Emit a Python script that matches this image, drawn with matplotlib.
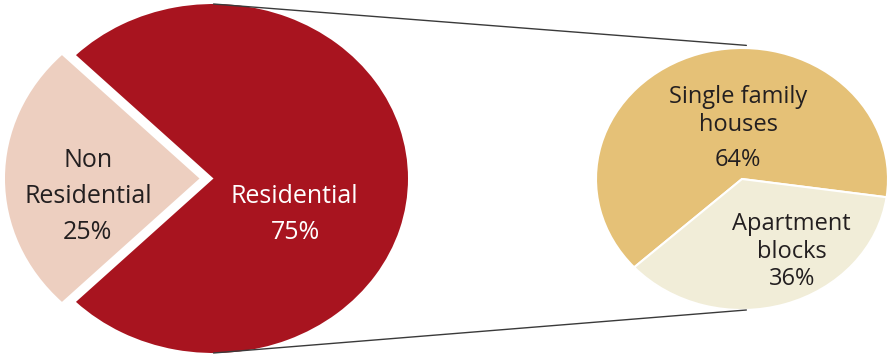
import matplotlib.pyplot as plt
from matplotlib.patches import ConnectionPatch

# ── Data ─────────────────────────────────────────────────────────────────────
main_labels = ['Residential', 'Non\nResidential']
main_values = [75, 25]
sub_labels = ['Single family\nhouses', 'Apartment\nblocks']
sub_values = [64, 36]

main_colors = ['#A8141F', '#EDCFC0']
sub_colors = ['#E5C177', '#F1EDD8']
dark = '#231F20'

plt.rcParams['font.family'] = ['Open Sans', 'DejaVu Sans']

W, H = 890, 354
fig = plt.figure(figsize=(W / 100, H / 100), dpi=100)


def px_axes(x0, y0, x1, y1):
    # axes placed by pixel box (top-left origin)
    return fig.add_axes([x0 / W, (H - y1) / H, (x1 - x0) / W, (y1 - y0) / H])


# ── Big pie (elliptical) ──────────────────────────────────────────────────────
ax1 = px_axes(19, 4, 408, 353)
ax1.pie(main_values, colors=main_colors, startangle=225, counterclock=True,
        explode=[0, 0.072], radius=1, wedgeprops=dict(linewidth=0))
ax1.set_aspect('auto')
ax1.set_xlim(-1, 1)
ax1.set_ylim(-1, 1)
ax1.axis('off')

ax1.text(0.415, -0.105, main_labels[0], color='white', fontsize=18,
         ha='center', va='center')
ax1.text(0.42, -0.31, f'{main_values[0]}%', color='white', fontsize=18,
         ha='center', va='center')
for line, y in zip(main_labels[1].split('\n') + [f'{main_values[1]}%'],
                   [0.103, -0.105, -0.31]):
    ax1.text(-0.646, y, line, color=dark, fontsize=18, ha='center', va='center')

# ── Small pie (elliptical) ────────────────────────────────────────────────────
ax2 = px_axes(596, 48, 888, 310)
ax2.pie(sub_values, colors=sub_colors, startangle=-8, counterclock=True,
        radius=1, wedgeprops=dict(linewidth=1.5, edgecolor='white'))
ax2.set_aspect('auto')
ax2.set_xlim(-1, 1)
ax2.set_ylim(-1, 1)
ax2.axis('off')

sub_lines = sub_labels[0].split('\n') + [f'{sub_values[0]}%']
for line, y in zip(sub_lines, [0.625, 0.415, 0.145]):
    ax2.text(-0.027, y, line, color=dark, fontsize=17, ha='center', va='center')
sub_lines = sub_labels[1].split('\n') + [f'{sub_values[1]}%']
for line, y in zip(sub_lines, [-0.345, -0.555, -0.765]):
    ax2.text(0.34, y, line, color=dark, fontsize=17, ha='center', va='center')

# ── Connector lines ───────────────────────────────────────────────────────────
for y1, y2 in [(1, 1.02), (-1, -1)]:
    con = ConnectionPatch(xyA=(0, y1), coordsA=ax1.transData,
                          xyB=(0.03, y2), coordsB=ax2.transData,
                          color='#3a3a3a', linewidth=1.0)
    fig.add_artist(con)

fig.savefig('out.png', dpi=100)
